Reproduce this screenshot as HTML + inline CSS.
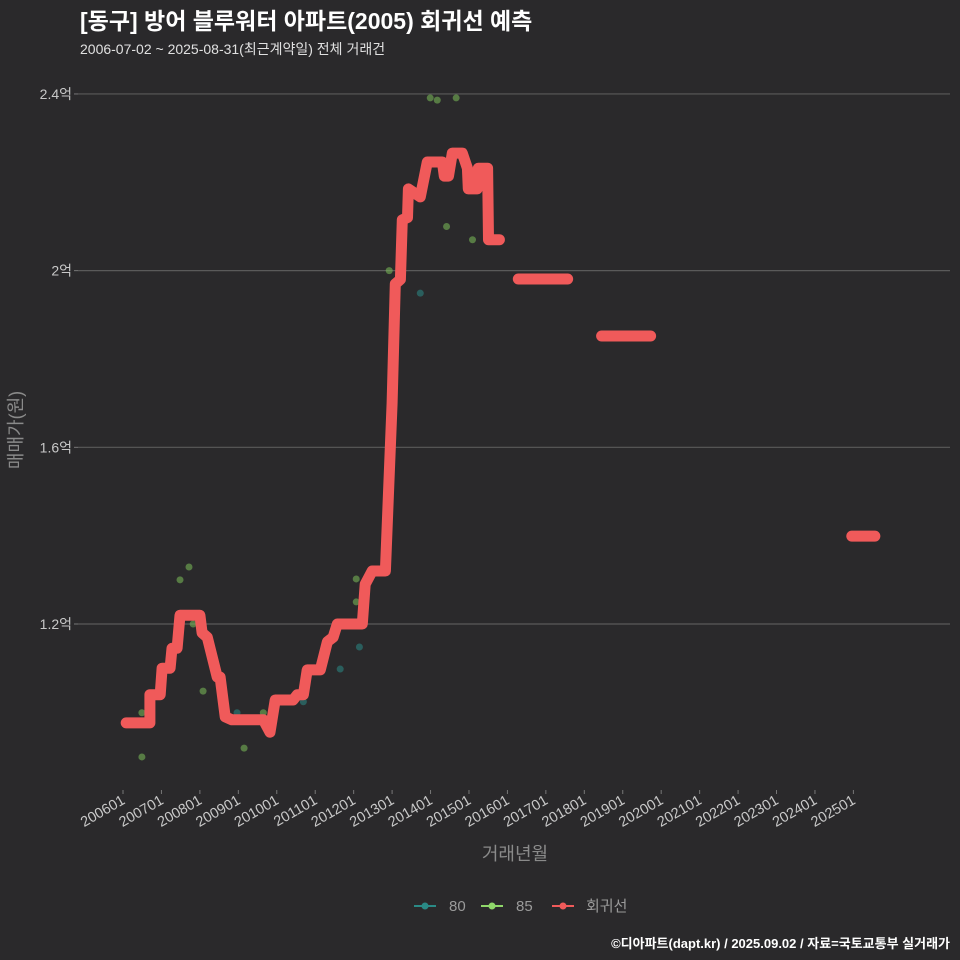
<!DOCTYPE html>
<html><head><meta charset="utf-8">
<style>
body{margin:0;background:#2a292b;}
svg{display:block;font-family:"Liberation Sans","Noto Sans CJK KR",sans-serif;}
</style></head>
<body>
<svg id="chart" width="960" height="960" viewBox="0 0 960 960">
<rect width="960" height="960" fill="#2a292b"/>
<text x="80" y="29" fill="#ffffff" font-size="23" font-weight="bold">[동구] 방어 블루워터 아파트(2005) 회귀선 예측</text>
<text x="80" y="54" fill="#e0e0e0" font-size="14">2006-07-02 ~ 2025-08-31(최근계약일) 전체 거래건</text>
<g id="grid"></g>
<g id="yticks"></g>
<g id="xticks"></g>
<g id="points"></g>
<g id="lines"></g>
<text transform="translate(22,430) rotate(-90)" text-anchor="middle" fill="#8a8a8a" font-size="18">매매가(원)</text>
<text x="515" y="860" text-anchor="middle" fill="#8a8a8a" font-size="18">거래년월</text>
<g>
 <g>
  <line x1="414" y1="906" x2="436" y2="906" stroke="#2a8a86" stroke-width="2"/>
  <circle cx="425" cy="906" r="3.5" fill="#2a8a86"/>
  <text x="449" y="911" fill="#9a9a9a" font-size="15">80</text>
 </g>
 <g>
  <line x1="481" y1="906" x2="503" y2="906" stroke="#8fd76a" stroke-width="2"/>
  <circle cx="492" cy="906" r="3.5" fill="#8fd76a"/>
  <text x="516" y="911" fill="#9a9a9a" font-size="15">85</text>
 </g>
 <g>
  <line x1="552" y1="906" x2="574" y2="906" stroke="#f05a5a" stroke-width="2"/>
  <circle cx="563" cy="906" r="3.5" fill="#f05a5a"/>
  <text x="586" y="911" fill="#9a9a9a" font-size="15">회귀선</text>
 </g>
</g>
<text x="950" y="948" text-anchor="end" fill="#ffffff" font-size="13" font-weight="bold">©디아파트(dapt.kr) / 2025.09.02 / 자료=국토교통부 실거래가</text>
</svg>
<script>
// data (month index from 2006-01, value in 억)
const yTickValues = [1.2, 1.6, 2.0, 2.4];
const yTickLabels = ["1.2억", "1.6억", "2억", "2.4억"];
const xTickLabels = ["200601","200701","200801","200901","201001","201101","201201","201301","201401","201501","201601","201701","201801","201901","202001","202101","202201","202301","202401","202501"];
const lineMonths = [1,8.4,8.4,11.6,12.2,14.7,15.3,16.9,17.8,24,24.7,26.3,29.4,30.3,31.9,34,43.8,45.9,47.5,53.1,54.4,56.3,57.5,61.6,63.8,65.6,66.9,74.7,75.6,77.8,81.9,82.8,84,85,86.6,87.2,88.8,89.1,92.8,95,99.7,100.3,101.6,102.8,105.9,107.5,107.8,110.6,110.9,113.8,114.1,117.5];
const lineValues = [0.976,0.976,1.04,1.04,1.10,1.10,1.145,1.145,1.22,1.22,1.18,1.17,1.08,1.08,0.99,0.983,0.983,0.955,1.028,1.028,1.04,1.04,1.096,1.096,1.16,1.17,1.2,1.2,1.29,1.32,1.32,1.48,1.70,1.97,1.98,2.115,2.12,2.185,2.167,2.246,2.246,2.214,2.214,2.266,2.266,2.232,2.185,2.185,2.232,2.232,2.07,2.07];
const segStart = [123.4, 149.4, 227.5];
const segEnd = [138.8, 164.7, 234.7];
const segValues = [1.981, 1.852, 1.399];
const pts80Months = [35.6,56.3,67.8,73.8,92.8];
const pts80Values = [0.999,1.024,1.098,1.148,1.949];
const pts85Months = [5.9,5.9,17.8,20.6,21.9,25,37.8,43.8,72.8,72.8,75,83.1,95.9,98.1,104,101,109.1];
const pts85Values = [0.999,0.899,1.30,1.329,1.2,1.048,0.919,0.999,1.302,1.25,1.2,2.0,2.391,2.386,2.391,2.1,2.07];

const NS = "http://www.w3.org/2000/svg";
function xS(m){ return 123 + m * 3.2035; }
function yS(v){ return 624 - (v - 1.2) * 441.7; }
function mk(tag, attrs, parent){ const e = document.createElementNS(NS, tag); for (const k in attrs) e.setAttribute(k, attrs[k]); parent.appendChild(e); return e; }

const grid = document.getElementById('grid');
const yt = document.getElementById('yticks');
yTickValues.forEach((v, i) => {
  const l = mk('line', {x1: 78, x2: 950, y1: yS(v), y2: yS(v), stroke: '#5a5a5a', 'stroke-width': 1.2}, grid);
  
  
  const tk = mk('line', {x1: 74, x2: 78, y1: yS(v), y2: yS(v), stroke: '#777', 'stroke-width': 1}, yt);
  
  
  const t = mk('text', {x: 72, y: yS(v) + 5, 'text-anchor': 'end', fill: '#c8c8c8', 'font-size': 14}, yt);
  t.textContent = yTickLabels[i];
  
  
});
const xt = document.getElementById('xticks');
xTickLabels.forEach((lab, i) => {
  const x = xS(i * 12);
  const tk = mk('line', {x1: x, x2: x, y1: 790, y2: 794, stroke: '#777', 'stroke-width': 1}, xt);
  
  
  const t = mk('text', {x: x + 3, y: 803, 'text-anchor': 'end', fill: '#c8c8c8', 'font-size': 14.5, transform: `rotate(-30 ${x + 3} 803)`}, xt);
  t.textContent = lab;
  
  
});

const pg = document.getElementById('points');
pts80Months.forEach((m, i) => {
  const c = mk('circle', {cx: xS(m), cy: yS(pts80Values[i]), r: 3.5, fill: '#2a8a86', 'fill-opacity': 0.55}, pg);
  
  
});
pts85Months.forEach((m, i) => {
  const c = mk('circle', {cx: xS(m), cy: yS(pts85Values[i]), r: 3.5, fill: '#7cc05a', 'fill-opacity': 0.55}, pg);
  
  
});

const lg = document.getElementById('lines');
const d = lineMonths.map((m, i) => (i ? 'L' : 'M') + xS(m).toFixed(1) + ' ' + yS(lineValues[i]).toFixed(1)).join(' ');
const p = mk('path', {d: d, fill: 'none', stroke: '#f05a5a', 'stroke-width': 11, 'stroke-linejoin': 'round', 'stroke-linecap': 'round'}, lg);


segValues.forEach((v, i) => {
  const s = mk('line', {x1: xS(segStart[i]), x2: xS(segEnd[i]), y1: yS(v), y2: yS(v), stroke: '#f05a5a', 'stroke-width': 11, 'stroke-linecap': 'round'}, lg);
  
  
});
</script>
</body></html>
